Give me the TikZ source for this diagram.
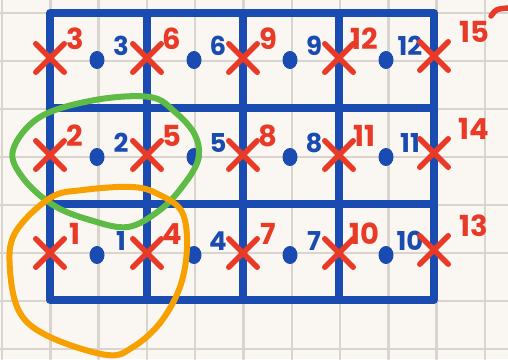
\documentclass[tikz,border=0pt]{standalone}
\usepackage{fontspec}
\setmainfont{Poppins}
\usetikzlibrary{shapes.misc,shapes.geometric}

\definecolor{penblue}{HTML}{1A4BB0}
\definecolor{penred}{HTML}{E93A28}
\definecolor{pengreen}{HTML}{5DBB46}
\definecolor{penorange}{HTML}{F7A100}
\definecolor{paper}{HTML}{FAF7F2}
\definecolor{papergrid}{HTML}{D9D4CD}

\tikzset{
  xmark/.style={cross out,draw=penred,line width=5.5pt,minimum size=23pt,inner sep=0pt},
  bdot/.style={ellipse,fill=penblue,minimum width=15pt,minimum height=18pt,inner sep=0pt},
  rednum/.style={text=penred,font=\fontsize{29}{29}\selectfont\bfseries,inner sep=0pt},
  bluenum/.style={text=penblue,font=\fontsize{26}{26}\selectfont\bfseries,inner sep=0pt},
  loop/.style={line width=6pt}
}

\begin{document}
\begin{tikzpicture}[x=1pt,y=-1pt,line cap=round,line join=round]
			\fill[paper] (0,0) rectangle (508,359);
			\useasboundingbox (0,0) rectangle (508,359);
			% squared paper
			\foreach \i in {0,...,10}
				\draw[papergrid,line width=2.5pt] ({2+48.3*\i},0) -- ++(0,359);
			\foreach \j in {0,...,7}
				\draw[papergrid,line width=2.5pt] (0,{13+48*\j}) -- ++(508,0);
			% blue table
			\draw[penblue,line width=7.5pt] (50,13) rectangle (434,300);
			\draw[penblue,line width=7.5pt] (147,13) -- (147,300);
			\draw[penblue,line width=7.5pt] (243,13) -- (243,300);
			\draw[penblue,line width=7.5pt] (339,13) -- (339,300);
			\draw[penblue,line width=7.5pt] (50,108) -- (434,108);
			\draw[penblue,line width=7.5pt] (50,204) -- (434,204);
			% crosses on the lines, dots in the cells
			\foreach \c/\x in {0/50,1/147,2/243,3/339}
				\foreach \r/\y in {1/253,2/155,3/58} {
					\pgfmathtruncatemacro\n{3*\c+\r}
					\node[xmark] (x\n) at (\x,\y) {};
					\node[rednum] (r\n) at ([shift={(25,-19)}]x\n) {\n};
					\node[bdot] (d\n) at (\x+47,\y+2) {};
					\node[bluenum] (b\n) at ([shift={(24,-14)}]d\n) {\n};
				}
			\foreach \r/\y in {1/250,2/153,3/56} {
				\pgfmathtruncatemacro\n{12+\r}
				\node[xmark] (x\n) at (434,\y) {};
				\node[rednum] (r\n) at ([shift={(40,-24)}]x\n) {\n};
			}
			\draw[penred,line width=5.5pt] (491,16) .. controls (496,9) .. (508,8);
			% green loop round 2
			\draw[pengreen,loop] plot[smooth cycle,tension=0.6] coordinates {(13,150) (40,117) (95,100) (150,97) (175,112) (195,135) (198,160) (182,187) (160,210) (128,227) (90,220) (53,205) (23,178)};
			% orange loop round 1
			\draw[penorange,loop] plot[smooth cycle,tension=0.6] coordinates {(50,198) (15,233) (10,270) (20,313) (50,337) (107,355) (133,347) (160,323) (180,287) (187,247) (182,212) (160,195) (133,187) (83,190)};
		\end{tikzpicture}
\end{document}
